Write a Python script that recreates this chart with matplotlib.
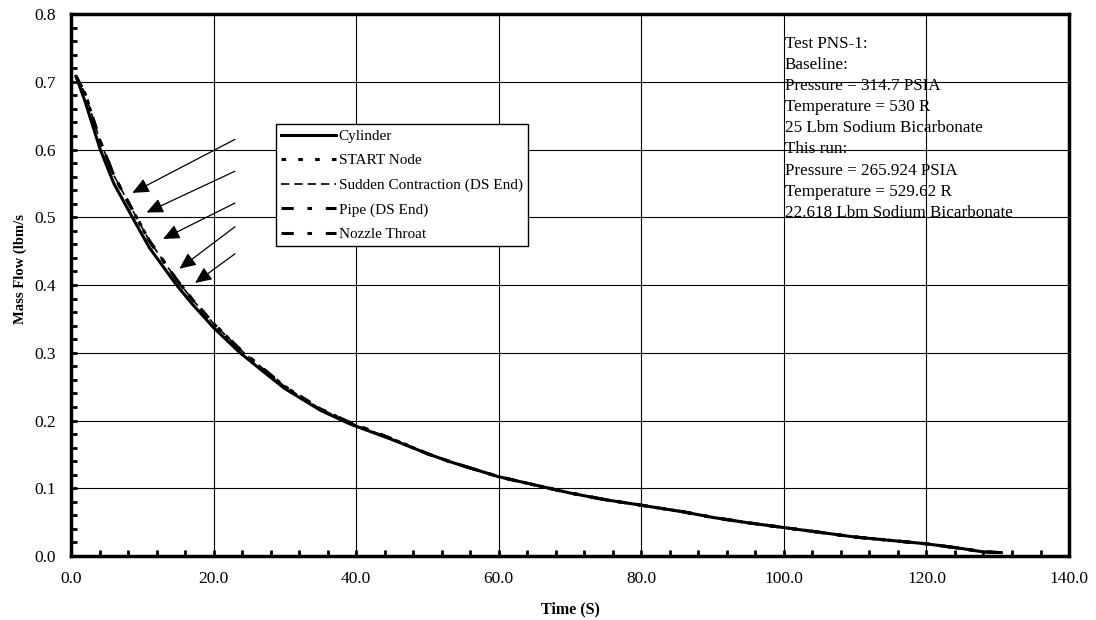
import numpy as np
import matplotlib.pyplot as plt
from matplotlib.ticker import MultipleLocator, FormatStrFormatter

plt.rcParams['font.family'] = ['Liberation Serif', 'DejaVu Serif']

# data
time_s = [0.7, 2, 4.1, 6, 8.6, 11, 14.8, 17, 20, 23.7, 27, 30, 35, 39.1, 45, 50,
          53.2, 60, 65, 70, 75, 80, 86, 90, 95, 100, 105, 110, 115, 120, 125, 128, 130.5]
cylinder = [0.708, 0.67, 0.60, 0.55, 0.50, 0.455, 0.40, 0.372, 0.337, 0.30, 0.272, 0.247,
            0.215, 0.195, 0.172, 0.151, 0.139, 0.117, 0.105, 0.093, 0.083, 0.075, 0.065,
            0.057, 0.049, 0.042, 0.035, 0.028, 0.023, 0.018, 0.011, 0.006, 0.005]
nodes = [0.708, 0.682, 0.612, 0.562, 0.511, 0.465, 0.408, 0.379, 0.343, 0.305, 0.276, 0.25,
         0.217, 0.197, 0.173, 0.151, 0.139, 0.117, 0.105, 0.093, 0.083, 0.075, 0.065,
         0.057, 0.049, 0.042, 0.035, 0.028, 0.023, 0.018, 0.011, 0.006, 0.005]

arrow_tails = [(23.0, 0.615), (23.0, 0.568), (23.0, 0.521), (23.0, 0.486), (23.0, 0.446)]
arrow_heads = [(8.6, 0.536), (10.6, 0.507), (12.9, 0.468), (15.2, 0.424), (17.4, 0.403)]

info = ("Test PNS-1:\nBaseline:\nPressure = 314.7 PSIA\nTemperature = 530 R\n"
        "25 Lbm Sodium Bicarbonate\nThis run:\nPressure = 265.924 PSIA\n"
        "Temperature = 529.62 R\n22.618 Lbm Sodium Bicarbonate")

fig = plt.figure(figsize=(10.96, 6.2), dpi=100)
ax = fig.add_axes([0.0648, 0.1032, 0.9106, 0.8742])

ax.plot(time_s, cylinder, color="black", lw=2.2, label="Cylinder")
ax.plot(time_s, nodes, color="black", lw=2.2, ls=(0, (1.5, 4)), label="START Node")
ax.plot(time_s, nodes, color="black", lw=1.2, ls=(0, (5, 3)), label="Sudden Contraction (DS End)")
ax.plot(time_s, nodes, color="black", lw=2.2, ls=(0, (4, 4.5, 1.5, 4.5)), label="Pipe (DS End)")
ax.plot(time_s, nodes, color="black", lw=2.2, ls=(0, (4, 4.5, 1.5, 4.5)), label="Nozzle Throat")

for (tx, ty), (hx, hy) in zip(arrow_tails, arrow_heads):
    ax.annotate("", xy=(hx, hy), xytext=(tx, ty),
                arrowprops=dict(arrowstyle="-|>,head_length=1.0,head_width=0.45",
                                color="black", lw=0.9, shrinkA=0, shrinkB=0))

ax.set_xlim(0, 140)
ax.set_ylim(0, 0.8)
ax.xaxis.set_major_locator(MultipleLocator(20))
ax.xaxis.set_minor_locator(MultipleLocator(4))
ax.yaxis.set_major_locator(MultipleLocator(0.1))
ax.yaxis.set_minor_locator(MultipleLocator(0.02))
ax.xaxis.set_major_formatter(FormatStrFormatter("%.1f"))
ax.yaxis.set_major_formatter(FormatStrFormatter("%.1f"))
ax.tick_params(which="both", direction="in", width=2, length=4, labelsize=12.5)
ax.tick_params(axis="x", pad=11)
ax.tick_params(axis="y", pad=11)
ax.tick_params(which="both", top=False, right=False)
ax.grid(which="major", color="black", lw=0.8)
for s in ax.spines.values():
    s.set_linewidth(2.5)

ax.set_xlabel("Time (S)", fontsize=11.5, fontweight="bold", labelpad=10)
ax.set_ylabel("Mass Flow (lbm/s", fontsize=10.5, fontweight="bold")
ax.yaxis.set_label_coords(-0.044, 0.53)

ax.text(0.7154, 0.960, info, transform=ax.transAxes, fontsize=12.3, va="top", ha="left",
        linespacing=1.43)

leg = ax.legend(loc="upper left", bbox_to_anchor=(0.2054, 0.797), fontsize=11,
                handlelength=3.6, handletextpad=0.15, labelspacing=0.7,
                borderaxespad=0, fancybox=False, framealpha=1, edgecolor="black",
                borderpad=0.35)
leg.get_frame().set_linewidth(1)

fig.savefig("out.png", dpi=100)
